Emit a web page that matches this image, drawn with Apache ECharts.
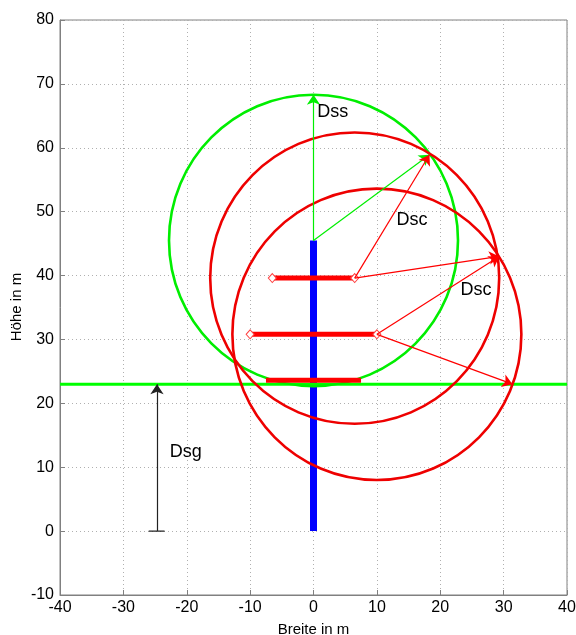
<!DOCTYPE html>
<html>
<head>
<meta charset="utf-8">
<script src="https://cdn.jsdelivr.net/npm/echarts@6/dist/echarts.min.js"></script>
<style>html,body{margin:0;padding:0;background:#fff}#c{width:576px;height:635px}</style>
</head>
<body>
<div id="c"></div>
<script>
// ---- data ----
var xTicks = [-40, 40, 10];
var yTicks = [-10, 80, 10];
var xName = 'Breite in m';
var yName = 'Höhe in m';
var towerX = [0, 0];
var towerY = [0, 45.5];
var groundY = 23;
var armY = [39.6, 30.8, 23.6];
var armHalf = [6.5, 10, 7.5];
var armMarkers = [true, true, false];
var greenCircleCenter = [[0, 45.5]];
var redCircleCenters = [[6.5, 39.6], [10, 30.8]];
var circleRadius = 22.8;
var greenArrows = [[0, 45.5, 0, 68.3], [0, 45.5, 18.3, 58.9]];
var redArrows = [[6.5, 39.6, 18.3, 58.9], [6.5, 39.6, 29.3, 43.0], [10, 30.8, 29.3, 43.0], [10, 30.8, 31.4, 23.0]];
var blackArrows = [[-24.7, 0, -24.7, 23]];
var dsgBase = [[-26, 0], [-23.5, 0]];
var labelTexts = ['Dss', 'Dsc', 'Dsc', 'Dsg'];
var labelX = [0.6, 13.1, 23.2, -22.7];
var labelY = [65.6, 48.7, 37.8, 12.3];

// ---- chart ----
var chart = echarts.init(document.getElementById('c'));
var FONT = 'Liberation Sans, Arial, sans-serif';

function circleSeries(centers, color, z) {
  return {
    type: 'custom', z: z, silent: true,
    data: centers.map(function (c) { return [c[0], c[1], circleRadius]; }),
    renderItem: function (params, api) {
      var c = api.coord([api.value(0), api.value(1)]);
      var rx = api.size([api.value(2), 0])[0];
      var ry = api.size([0, api.value(2)])[1];
      return {
        type: 'ellipse',
        shape: { cx: c[0], cy: c[1], rx: rx, ry: ry },
        style: { fill: 'none', stroke: color, lineWidth: 2.6 }
      };
    }
  };
}
function arrowSeries(arr, color, z) {
  return {
    type: 'lines', coordinateSystem: 'cartesian2d', z: z, silent: true,
    symbol: ['none', 'arrow'], symbolSize: [7, 10],
    lineStyle: { color: color, width: 1.2, opacity: 1 },
    data: arr.map(function (a) { return { coords: [[a[0], a[1]], [a[2], a[3]]] }; })
  };
}

var series = [];
series.push({ type: 'line', z: 3, data: towerX.map(function (x, i) { return [x, towerY[i]]; }),
  symbol: 'none', lineStyle: { color: '#0000ff', width: 7 }, silent: true });
series.push({ type: 'line', z: 4, data: [[xTicks[0], groundY], [xTicks[1], groundY]],
  symbol: 'none', lineStyle: { color: '#00ff00', width: 3 }, silent: true });
armY.forEach(function (y, i) {
  series.push({ type: 'line', z: 6, data: [[-armHalf[i], y], [armHalf[i], y]],
    symbol: armMarkers[i] ? 'diamond' : 'none', symbolSize: [8, 9], showSymbol: armMarkers[i],
    itemStyle: { color: '#fff', borderColor: '#ff4040', borderWidth: 1 },
    lineStyle: { color: '#ff0000', width: 5 }, silent: true });
});
series.push(circleSeries(greenCircleCenter, '#00ee00', 5));
series.push(circleSeries(redCircleCenters, '#ee0000', 5));
series.push(arrowSeries(greenArrows, '#00ee00', 7));
series.push(arrowSeries(redArrows, '#ff0000', 7));
series.push(arrowSeries(blackArrows, '#222222', 7));
series.push({ type: 'line', z: 7, data: dsgBase, symbol: 'none', lineStyle: { color: '#222', width: 1.2 }, silent: true });
series.push({
  type: 'custom', z: 8, silent: true,
  data: labelTexts.map(function (t, i) { return [labelX[i], labelY[i]]; }),
  renderItem: function (params, api) {
    var p = api.coord([api.value(0), api.value(1)]);
    return { type: 'text', x: p[0], y: p[1],
      style: { text: labelTexts[params.dataIndex], font: '18px ' + FONT, fill: '#000',
        textAlign: 'left', textVerticalAlign: 'middle' } };
  }
});

chart.setOption({
  animation: false,
  backgroundColor: '#fff',
  grid: { left: 60, right: 9, top: 20, bottom: 40, containLabel: false, outerBoundsMode: 'none',
    show: true, borderColor: '#808080', borderWidth: 1, backgroundColor: '#fff' },
  graphic: [{
    type: 'text', x: 17, y: 307, rotation: Math.PI / 2, z: 10,
    style: { text: yName, font: '15px ' + FONT, fill: '#000', textAlign: 'center', textVerticalAlign: 'middle' }
  }],
  xAxis: {
    type: 'value', min: xTicks[0], max: xTicks[1], interval: xTicks[2],
    name: xName, nameLocation: 'middle', nameGap: 27,
    nameTextStyle: { fontFamily: FONT, fontSize: 15, color: '#000' },
    axisLine: { show: true, onZero: false, lineStyle: { color: '#808080' } },
    axisTick: { show: true, inside: true, length: 5, lineStyle: { color: '#808080' } },
    axisLabel: { fontFamily: FONT, fontSize: 16, color: '#000', margin: 5 },
    splitLine: { show: true, lineStyle: { color: '#b0b0b0', type: [1, 3], width: 1 } }
  },
  yAxis: {
    type: 'value', min: yTicks[0], max: yTicks[1], interval: yTicks[2],
    axisLine: { show: true, onZero: false, lineStyle: { color: '#808080' } },
    axisTick: { show: true, inside: true, length: 5, lineStyle: { color: '#808080' } },
    axisLabel: { fontFamily: FONT, fontSize: 16, color: '#000', margin: 6 },
    splitLine: { show: true, lineStyle: { color: '#b0b0b0', type: [1, 3], width: 1 } }
  },
  series: series
});
</script>
</body>
</html>
